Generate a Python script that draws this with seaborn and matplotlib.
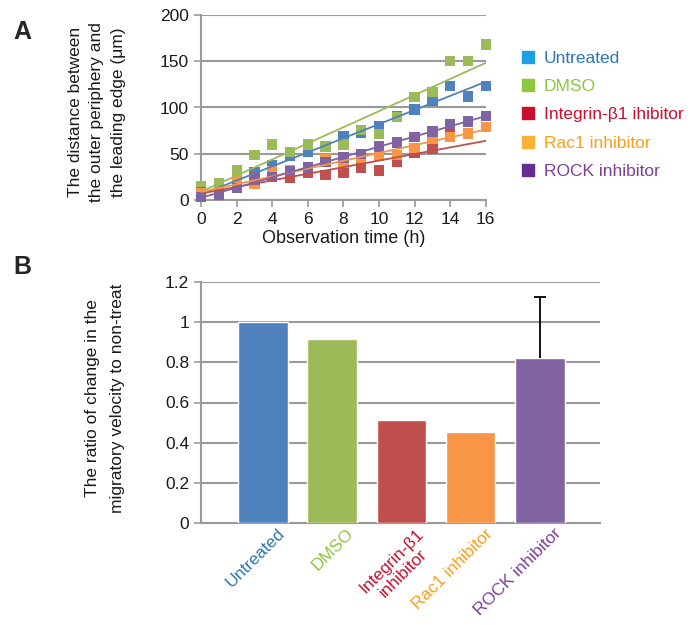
import numpy as np
import pandas as pd
import matplotlib
matplotlib.use("Agg")
import matplotlib.pyplot as plt
from matplotlib.lines import Line2D
import seaborn as sns

# Panel A: distance (um) per observation hour
hours = list(range(17))
untreated = [4, 10, 20, 30, 38, 48, 52, 58, 69, 73, 80, 91, 98, 107, 123, 112, 123]
dmso = [15.5, 18, 32, 49, 60, 52, 60, 58, 60, 76, 71, 90, 111, 117, 150, 150, 168]
integrin = [8, 7, 17, 25, 28, 24, 29, 27, 29, 35, 32, 41, 51, 55, 71]
rac1 = [7, 9, 21, 17, 31, 32, 36, 44, 40, 46, 48, 49, 56, 66, 68, 72, 79]
rock = [3, 6, 13, 22, 25, 31, 35, 41, 46, 50, 58, 62, 68, 74, 82, 85, 91]

# Panel B: ratio of migratory velocity
groups = ["Untreated", "DMSO", "Integrin-\u03b21\ninhibitor", "Rac1 inhibitor", "ROCK inhibitor"]
ratio = [1.0, 0.915, 0.513, 0.453, 0.82]
ratio_err = [0, 0, 0, 0, 0.307]

legend_names = ["Untreated", "DMSO", "Integrin-\u03b21 ihibitor", "Rac1 inhibitor", "ROCK inhibitor"]
mark_colors = ["#4F81BD", "#9BBB59", "#C0504D", "#F79646", "#8064A2"]
legend_box_colors = ["#1BA1E2", "#8DC63F", "#C8102E", "#F9B233", "#662D91"]
text_colors = ["#2E75B6", "#8DC63F", "#C8102E", "#F7A01D", "#7F3F98"]
GRID = "#9A9A9A"

sns.set_theme(style="white")
plt.rcParams["font.family"] = ["Liberation Sans", "DejaVu Sans"]
plt.rcParams["font.size"] = 12

fig = plt.figure(figsize=(6.91, 6.25), dpi=100)

# ---------- panel A ----------
axA = fig.add_axes([0.291, 0.68, 0.412, 0.296])
series = [untreated, dmso, integrin, rac1, rock]
rows = []
for name, vals in zip(legend_names, series):
    for t, v in zip(hours, vals):
        rows.append({"t": t, "d": v, "g": name})
dfA = pd.DataFrame(rows)

sns.scatterplot(data=dfA, x="t", y="d", hue="g", palette=mark_colors,
                marker="s", s=55, edgecolor="none", legend=False,
                clip_on=False, ax=axA, zorder=3)
tt = np.linspace(0, 16, 2)
for vals, c in zip(series, mark_colors):
    k, b = np.polyfit(hours[:len(vals)], vals, 1)
    axA.plot(tt, k * tt + b, color=c, lw=1.3, zorder=4)

axA.set_xlim(0, 16)
axA.set_ylim(0, 200)
axA.set_xticks(range(0, 17, 2))
axA.set_yticks(range(0, 201, 50))
axA.yaxis.grid(True, color=GRID, lw=1.5)
axA.set_axisbelow(True)
for s in ["top", "right"]:
    axA.spines[s].set_visible(False)
for s in ["left", "bottom"]:
    axA.spines[s].set_color(GRID)
    axA.spines[s].set_linewidth(1.5)
axA.tick_params(axis="both", length=5, color=GRID, width=1.2, labelsize=12.5, pad=4,
                bottom=True, left=True, labelcolor="#1a1a1a")
axA.set_xlabel("Observation time (h)", fontsize=13, labelpad=2, color="#1a1a1a")
axA.set_ylabel("")
fig.text(97 / 691, 1 - 112 / 625,
         "The distance between\nthe outer periphery and\nthe leading edge (\u03bcm)",
         rotation=90, ha="center", va="center", fontsize=12.5, linespacing=1.5,
         multialignment="center", color="#1a1a1a")

handles = [Line2D([], [], marker="s", ls="none", color=c, markersize=9) for c in legend_box_colors]
fig.legend(handles, legend_names, loc="upper left", bbox_to_anchor=(514 / 691, 1 - 44 / 625),
           frameon=False, labelcolor=text_colors, fontsize=12.5, handlelength=0.8,
           handletextpad=0.5, labelspacing=0.75, borderaxespad=0)

# ---------- panel B ----------
axB = fig.add_axes([0.291, 0.163, 0.577, 0.386])
dfB = pd.DataFrame({"group": groups, "ratio": ratio})
sns.barplot(data=dfB, x="group", y="ratio", hue="group", palette=mark_colors,
            width=0.72, legend=False, saturation=1, ax=axB, zorder=3)
idx = [i for i, e in enumerate(ratio_err) if e > 0]
eb = axB.errorbar(idx, [ratio[i] for i in idx],
                  yerr=[[0] * len(idx), [ratio_err[i] for i in idx]],
                  fmt="none", ecolor="black", elinewidth=1.3, capsize=4, capthick=1.3, zorder=4)
# only the upper cap is shown
eb[1][0].set_visible(False)
axB.set_xlim(-0.9, 4.87)
axB.set_ylim(0, 1.2)
axB.set_yticks(np.arange(0, 1.21, 0.2))
axB.set_yticklabels(["0", "0.2", "0.4", "0.6", "0.8", "1", "1.2"])
axB.yaxis.grid(True, color=GRID, lw=1.5)
axB.set_axisbelow(True)
for s in ["top", "right"]:
    axB.spines[s].set_visible(False)
for s in ["left", "bottom"]:
    axB.spines[s].set_color(GRID)
    axB.spines[s].set_linewidth(1.5)
axB.tick_params(axis="y", length=5, color=GRID, width=1.2, labelsize=12.5, left=True,
                labelcolor="#1a1a1a")
axB.tick_params(axis="x", length=0, labelsize=12.5, pad=2)
axB.set_xlabel("")
axB.set_ylabel("")
for lab, c in zip(axB.get_xticklabels(), text_colors):
    lab.set_rotation(45)
    lab.set_ha("right")
    lab.set_va("top")
    lab.set_rotation_mode("anchor")
    lab.set_color(c)
    lab.set_multialignment("center")
offset = matplotlib.transforms.ScaledTranslation(14 / 100, 0 / 100, fig.dpi_scale_trans)
for lab in axB.get_xticklabels():
    lab.set_transform(lab.get_transform() + offset)

fig.text(105 / 691, 1 - 398 / 625,
         "The ratio of change in the\nmigratory velocity to non-treat",
         rotation=90, ha="center", va="center", fontsize=12.5, linespacing=1.85,
         multialignment="center", color="#1a1a1a")

fig.text(22 / 691, 1 - 32 / 625, "A", fontsize=18, fontweight="bold", ha="center", va="center")
fig.text(22 / 691, 1 - 267 / 625, "B", fontsize=18, fontweight="bold", ha="center", va="center")

fig.savefig("out.png", dpi=100)
